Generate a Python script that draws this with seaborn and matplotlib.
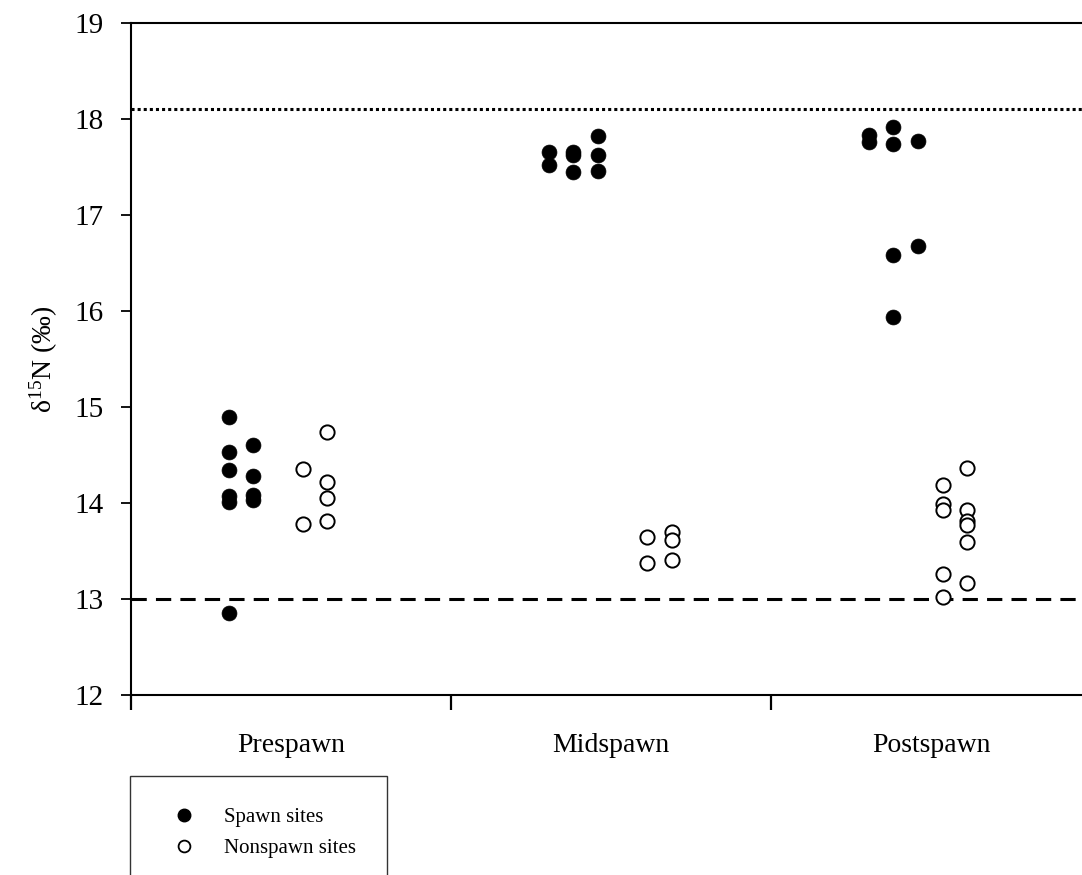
import pandas as pd
import seaborn as sns
import matplotlib.pyplot as plt
from matplotlib.lines import Line2D

# Valeurs (d15N, pour mille), une liste par colonne de points
stages = ['Prespawn', 'Midspawn', 'Postspawn']

pre_spawn = [[14.90, 14.53, 14.34, 14.07, 14.01, 12.85], [14.60, 14.28, 14.08, 14.03]]
pre_nonspawn = [[14.35, 13.78], [14.74, 14.22, 14.05, 13.81]]
mid_spawn = [[17.66, 17.52], [17.66, 17.62, 17.45], [17.82, 17.62, 17.46]]
mid_nonspawn = [[13.65, 13.37], [13.70, 13.61, 13.41]]
post_spawn = [[17.83, 17.76], [17.92, 17.74, 16.58, 15.94], [17.77, 16.68]]
post_nonspawn = [[14.19, 13.99, 13.93, 13.26, 13.02], [14.36, 13.93, 13.81, 13.77, 13.59, 13.17]]

upper_ref = 18.1
lower_ref = 13.0

# premiere colonne de chaque groupe (rang dans la categorie)
spawn_slot = [0, 0, 0]
nonspawn_slot = [3, 4, 3]

rows = []
groups = [(pre_spawn, pre_nonspawn), (mid_spawn, mid_nonspawn), (post_spawn, post_nonspawn)]
for i, (sp, ns) in enumerate(groups):
    for j, col in enumerate(sp):
        for v in col:
            rows.append({'stage': i, 'slot': spawn_slot[i] + j, 'd15N': v, 'site': 'Spawn sites'})
    for j, col in enumerate(ns):
        for v in col:
            rows.append({'stage': i, 'slot': nonspawn_slot[i] + j, 'd15N': v, 'site': 'Nonspawn sites'})
df = pd.DataFrame(rows)
df['x'] = df['stage'] + 0.305 + 0.077 * df['slot']

sns.set_style('white')
plt.rcParams['font.family'] = ['Liberation Serif', 'DejaVu Serif']
plt.rcParams['mathtext.fontset'] = 'custom'
plt.rcParams['mathtext.rm'] = 'Liberation Serif'
plt.rcParams['mathtext.it'] = 'Liberation Serif:italic'
for key in ['text.color', 'axes.labelcolor', 'xtick.color', 'ytick.color', 'axes.edgecolor']:
    plt.rcParams[key] = 'black'

fig = plt.figure(figsize=(10.82, 8.75), dpi=100)
ax = fig.add_axes([0.1211, 0.2057, 0.8872, 0.768])

sp_df = df[df['site'] == 'Spawn sites']
ns_df = df[df['site'] == 'Nonspawn sites']
sns.scatterplot(data=sp_df, x='x', y='d15N', ax=ax, color='black', edgecolor='black',
                s=115, linewidth=0.5, zorder=3, legend=False)
sns.scatterplot(data=ns_df, x='x', y='d15N', ax=ax, color='white', edgecolor='black',
                s=105, linewidth=1.4, zorder=3, legend=False)

ax.axhline(upper_ref, color='black', linestyle=(0, (1, 1)), linewidth=2.2, zorder=2)
ax.axhline(lower_ref, color='black', linestyle=(0, (5, 3)), linewidth=2.2, zorder=2)

ax.set_xlim(0, 3)
ax.set_ylim(12, 19)
ax.set_xticks([0, 1, 2, 3])
ax.set_xticklabels([])
ax.set_xticks([0.5, 1.5, 2.5], minor=True)
ax.set_xticklabels(stages, minor=True, fontsize=20)
ax.tick_params(axis='x', which='major', direction='out', length=11, width=1.6, bottom=True)
ax.tick_params(axis='x', which='minor', length=0, pad=27)
ax.set_yticks(range(12, 20))
ax.tick_params(axis='y', direction='out', length=7, width=1.3, pad=13, labelsize=21, left=True)

ax.set_xlabel('')
ax.set_ylabel(r'$\mathrm{\delta^{15}N\ (\mathit{‰})}$', fontsize=20, labelpad=10)

for side in ['left', 'bottom', 'top']:
    ax.spines[side].set_visible(True)
    ax.spines[side].set_color('black')
    ax.spines[side].set_linewidth(1.5)
ax.spines['right'].set_visible(False)

# Legende sous le graphique
handles = [
    Line2D([], [], marker='o', linestyle='', markersize=9, markerfacecolor='black', markeredgecolor='black'),
    Line2D([], [], marker='o', linestyle='', markersize=8.5, markerfacecolor='white',
           markeredgecolor='black', markeredgewidth=1.3),
]
leg = fig.legend(handles, ['Spawn sites', 'Nonspawn sites'], loc='upper left',
                 bbox_to_anchor=(130 / 1082, 1 - 776 / 875), fontsize=15,
                 frameon=True, fancybox=False, borderpad=1.5, handletextpad=0.8,
                 labelspacing=0.55, borderaxespad=0, handlelength=2.2)
leg.get_frame().set_edgecolor('black')
leg.get_frame().set_linewidth(1.0)

fig.savefig('out.png', dpi=100)
